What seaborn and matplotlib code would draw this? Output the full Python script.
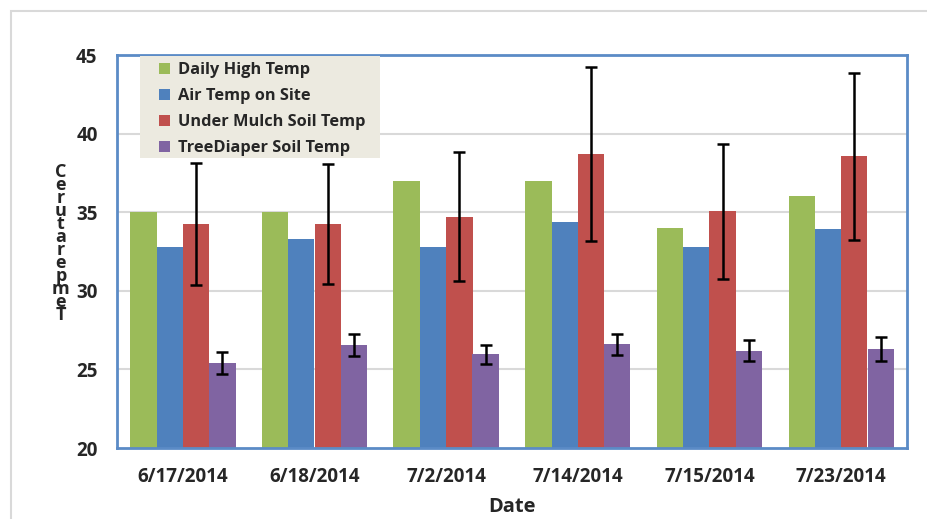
import numpy as np
import pandas as pd
import matplotlib
matplotlib.use("Agg")
import matplotlib.pyplot as plt
from matplotlib.patches import Rectangle
import seaborn as sns

dates = ["6/17/2014", "6/18/2014", "7/2/2014", "7/14/2014", "7/15/2014", "7/23/2014"]
series = ["Daily High Temp", "Air Temp on Site", "Under Mulch Soil Temp", "TreeDiaper Soil Temp"]

daily_high = [35.0, 35.0, 37.0, 37.0, 34.0, 36.0]
air_temp = [32.8, 33.3, 32.8, 34.4, 32.8, 33.9]
under_mulch = [34.25, 34.25, 34.7, 38.7, 35.05, 38.55]
tree_diaper = [25.4, 26.55, 25.95, 26.6, 26.2, 26.3]

under_mulch_err = [3.9, 3.8, 4.1, 5.55, 4.3, 5.3]
tree_diaper_err = [0.71, 0.7, 0.63, 0.68, 0.69, 0.74]

colors = ["#9BBB59", "#4F81BD", "#C0504D", "#8064A2"]

df = pd.DataFrame({
    "Date": dates * 4,
    "Series": [s for s in series for _ in dates],
    "Value": daily_high + air_temp + under_mulch + tree_diaper,
})

sns.set_style("white")
plt.rcParams["font.family"] = ["Open Sans", "DejaVu Sans"]
plt.rcParams["font.weight"] = "bold"

W, H = 928, 519
fig = plt.figure(figsize=(W / 100, H / 100), dpi=100)
ax = fig.add_axes([117 / W, 1 - 448 / H, 790 / W, 393 / H])

# outer chart border
fig.patches.append(Rectangle((11 / W, -0.1), 1.2, 1 - 11 / H + 0.1,
                             transform=fig.transFigure, fill=False,
                             edgecolor="#D9D9D9", linewidth=1.5, zorder=0))

sns.barplot(data=df, x="Date", y="Value", hue="Series", order=dates,
            hue_order=series, palette=colors, width=0.8, saturation=1,
            errorbar=None, ax=ax, zorder=2, linewidth=0)

# error bars on the two soil series
n = len(dates)
bars = list(ax.patches)
for k, err in ((2, under_mulch_err), (3, tree_diaper_err)):
    grp = bars[k * n:(k + 1) * n]
    xs = [b.get_x() + b.get_width() / 2 for b in grp]
    ys = [b.get_height() + b.get_y() for b in grp]
    ax.errorbar(xs, ys, yerr=err, fmt="none", ecolor="black",
                elinewidth=1.8, capsize=4, capthick=1.8, zorder=4)

ax.set_ylim(20, 45)
ax.set_xlim(-0.5, n - 0.5)
ax.set_yticks([20, 25, 30, 35, 40, 45])
for yv in [25, 30, 35, 40]:
    ax.axhline(yv, color="#D9D9D9", linewidth=1.5, zorder=1)

for sp in ax.spines.values():
    sp.set_visible(True)
    sp.set_color("#5B8BC6")
    sp.set_linewidth(2)

ax.tick_params(axis="both", length=0, labelsize=13.5)
ax.tick_params(axis="y", pad=14)
ax.tick_params(axis="x", pad=14)
for lbl in ax.get_xticklabels() + ax.get_yticklabels():
    lbl.set_fontweight("bold")

ax.set_xlabel("Date", fontsize=14.5, fontweight="bold", labelpad=7)
ax.set_ylabel("")

# stacked y label as in the original
fig.text(61 / W, 1 - 163 / H, "\n".join("Temperature C"[::-1].replace(" ", "")),
         ha="center", va="top", fontsize=13, fontweight="bold",
         linespacing=0.64)

# legend background box
ax.add_patch(Rectangle((23 / 790, 1 - 103 / 393), 240 / 790, 102 / 393,
                       transform=ax.transAxes, facecolor="#ECEAE0",
                       edgecolor="none", zorder=5))

leg = ax.legend(loc="upper left", bbox_to_anchor=(42 / 790, 1 - 7 / 393),
                frameon=False, fontsize=11.8, handlelength=0.7, handleheight=0.7,
                handletextpad=0.45, labelspacing=0.62, borderpad=0,
                borderaxespad=0)
for t in leg.get_texts():
    t.set_fontweight("bold")
leg.set_zorder(6)

fig.savefig("out.png", dpi=100)
